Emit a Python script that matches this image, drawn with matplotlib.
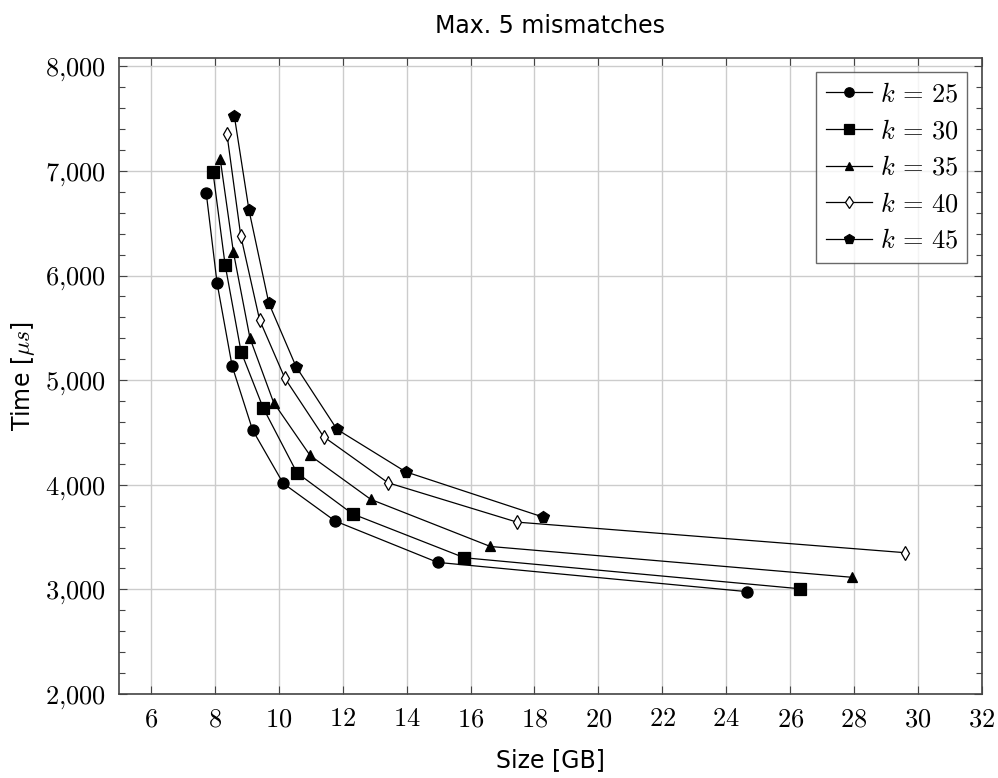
import matplotlib
matplotlib.use("Agg")
import matplotlib.pyplot as plt
from matplotlib.ticker import FuncFormatter, MultipleLocator

plt.rcParams["mathtext.fontset"] = "cm"
plt.rcParams["font.family"] = ["DejaVu Sans"]

# size [GB] and time [us] for each k
x25 = [7.73, 8.07, 8.54, 9.18, 10.14, 11.76, 14.97, 24.66]
y25 = [6790, 5927, 5136, 4524, 4013, 3654, 3258, 2978]
x30 = [7.94, 8.32, 8.82, 9.51, 10.57, 12.31, 15.81, 26.30]
y30 = [6993, 6105, 5272, 4736, 4114, 3721, 3302, 3006]
x35 = [8.17, 8.58, 9.10, 9.84, 10.98, 12.88, 16.62, 27.95]
y35 = [7110, 6225, 5400, 4785, 4280, 3860, 3410, 3115]
x40 = [8.38, 8.81, 9.40, 10.19, 11.40, 13.42, 17.45, 29.58]
y40 = [7349, 6381, 5576, 5019, 4460, 4019, 3643, 3351]
x45 = [8.61, 9.07, 9.69, 10.54, 11.82, 13.97, 18.28]
y45 = [7524, 6622, 5735, 5130, 4530, 4124, 3690]

series = [
    (x25, y25, "o", "black", 8, "$k\\,=\\,25$"),
    (x30, y30, "s", "black", 8, "$k\\,=\\,30$"),
    (x35, y35, "^", "black", 7.5, "$k\\,=\\,35$"),
    (x40, y40, "d", "white", 7.5, "$k\\,=\\,40$"),
    (x45, y45, "p", "black", 8.5, "$k\\,=\\,45$"),
]

fig = plt.figure(figsize=(9.98, 7.78), dpi=100)
ax = fig.add_axes([0.1192, 0.108, 0.8647, 0.8175])

for xs, ys, m, fc, ms, lab in series:
    ax.plot(xs, ys, color="black", lw=0.9, marker=m, markersize=ms,
            markerfacecolor=fc, markeredgecolor="black", markeredgewidth=0.9,
            label=lab, zorder=3)

ax.set_xlim(5, 32)
ax.set_ylim(2000, 8080)
ax.set_xticks([6, 8, 10, 12, 14, 16, 18, 20, 22, 24, 26, 28, 30, 32])
ax.yaxis.set_major_locator(MultipleLocator(1000))
ax.yaxis.set_minor_locator(MultipleLocator(200))
ax.xaxis.set_major_formatter(FuncFormatter(lambda v, p: r"$%d$" % v))
ax.yaxis.set_major_formatter(
    FuncFormatter(lambda v, p: r"$%d{,}%03d$" % (int(v) // 1000, int(v) % 1000)))

ax.tick_params(which="both", direction="in", top=True, right=True,
               labelsize=19, color="#444444")
ax.tick_params(which="major", length=6, width=0.8, pad=9)
ax.tick_params(which="minor", length=4, width=0.8)
ax.grid(True, which="major", color="#cccccc", lw=1.0, zorder=0)
ax.set_axisbelow(True)
for s in ax.spines.values():
    s.set_color("#444444")
    s.set_linewidth(1.2)

ax.set_title("Max. 5 mismatches", fontsize=17, pad=18)
ax.set_xlabel("Size [GB]", fontsize=17, labelpad=11)
ax.set_ylabel(r"Time [$\mu s$]", fontsize=17, labelpad=6)

leg = ax.legend(loc="upper right", fontsize=19, frameon=True, fancybox=False,
                borderaxespad=0.55, handlelength=1.75, handletextpad=0.3,
                labelspacing=0.4, borderpad=0.35, markerscale=0.85)
leg.get_frame().set_edgecolor("#444444")
leg.get_frame().set_linewidth(1.0)

fig.savefig("out.png", dpi=100)
